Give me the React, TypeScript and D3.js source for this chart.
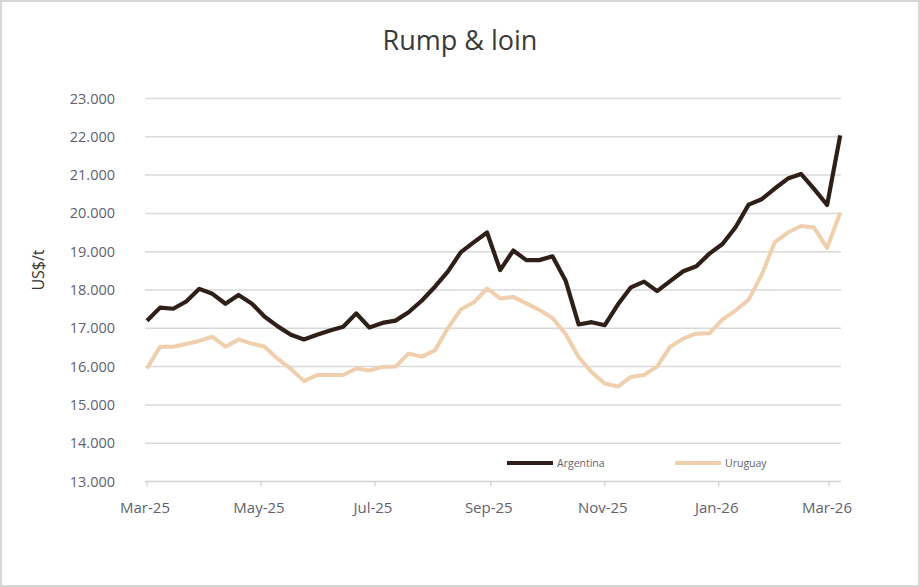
import React from "react";
import * as d3 from "d3";

const START_DATE = new Date(2025, 2, 1);
const argentina = [
  17200, 17540, 17510, 17700, 18030, 17900, 17640, 17870, 17650, 17300,
  17050, 16830, 16710, 16830, 16940, 17040, 17390, 17020, 17140, 17200,
  17420, 17720, 18080, 18480, 18990, 19250, 19500, 18520, 19030, 18780,
  18780, 18880, 18250, 17100, 17160, 17080, 17620, 18070, 18220, 17970,
  18230, 18490, 18620, 18950, 19200, 19640, 20230, 20370, 20650, 20910,
  21030, 20640, 20220, 22040,
];
const uruguay = [
  15950, 16520, 16520, 16590, 16670, 16780, 16520, 16710, 16600, 16520,
  16200, 15940, 15620, 15780, 15780, 15780, 15950, 15900, 15990, 16000,
  16340, 16260, 16420, 17000, 17500, 17680, 18040, 17780, 17820, 17650,
  17480, 17270, 16850, 16250, 15850, 15560, 15480, 15730, 15780, 16000,
  16520, 16730, 16860, 16870, 17230, 17460, 17750, 18400, 19250, 19500,
  19670, 19630, 19100, 20020,
];
const dates = argentina.map((_, i) => d3.timeDay.offset(START_DATE, i * 7));
const yTicks = [13000, 14000, 15000, 16000, 17000, 18000, 19000, 20000, 21000, 22000, 23000];
const xTickDates = [
  new Date(2025, 2, 1), new Date(2025, 4, 1), new Date(2025, 6, 1), new Date(2025, 8, 1),
  new Date(2025, 10, 1), new Date(2026, 0, 1), new Date(2026, 2, 1),
];
const xTickLabels = ["Mar-25", "May-25", "Jul-25", "Sep-25", "Nov-25", "Jan-26", "Mar-26"];
const seriesNames = ["Argentina", "Uruguay"];
const colors = ["#2e1f19", "#efcfad"];

const W = 920, H = 587;
const FONT = "'Open Sans', 'DejaVu Sans', sans-serif";

export default function App() {
  const x = d3.scaleTime().domain([new Date(2025, 2, 1), new Date(2026, 2, 1)]).range([147, 829]);
  const y = d3.scaleLinear().domain([13000, 23000]).range([481.5, 98.5]);
  const fmt = (v: number) => d3.format(",")(v).replace(/,/g, ".");
  const line = d3.line<number>().x((_, i) => x(dates[i])).y((d) => y(d));
  const gridX0 = 145, gridX1 = 841;

  return (
    <svg width={W} height={H} style={{ position: "absolute", left: 0, top: 0, background: "#fff" }}>
      <rect x={1} y={1} width={W - 2} height={H - 2} fill="#fff" stroke="#d6d6d6" strokeWidth={2} />
      <text x={460} y={50} textAnchor="middle" fontFamily={FONT} fontSize={27} fill="#3a3a3a">Rump &amp; loin</text>
      {yTicks.map((t) => (
        <g key={t}>
          {t !== 13000 && (
            <line x1={gridX0} x2={gridX1} y1={y(t)} y2={y(t)} stroke="#d9d9d9" strokeWidth={1.5} />
          )}
          <text x={115} y={y(t)} dy="0.35em" textAnchor="end" fontFamily={FONT} fontSize={14.5} fill="#5f5f70">{fmt(t)}</text>
        </g>
      ))}
      <line x1={gridX0} x2={gridX1} y1={y(13000)} y2={y(13000)} stroke="#d0d0d0" strokeWidth={1.5} />
      {xTickDates.map((d, i) => (
        <g key={i}>
          <line x1={x(d)} x2={x(d)} y1={y(13000)} y2={y(13000) + 5} stroke="#d0d0d0" strokeWidth={1.2} />
          <text x={x(d) - 2} y={513} textAnchor="middle" fontFamily={FONT} fontSize={15} fill="#5f5f70">{xTickLabels[i]}</text>
        </g>
      ))}
      <text transform="translate(44,270) rotate(-90)" textAnchor="middle" fontFamily={FONT} fontSize={16} fill="#333">US$/t</text>
      <path d={line(uruguay) || ""} fill="none" stroke={colors[1]} strokeWidth={4} strokeLinejoin="round" />
      <path d={line(argentina) || ""} fill="none" stroke={colors[0]} strokeWidth={4.2} strokeLinejoin="round" />
      {seriesNames.map((n, i) => {
        const lx = i === 0 ? 507 : 675;
        return (
          <g key={n}>
            <line x1={lx} x2={lx + 46} y1={463} y2={463} stroke={colors[i]} strokeWidth={3.8} />
            <text x={lx + 50} y={463} dy="0.35em" fontFamily={FONT} fontSize={10.5} fill="#5f5f70">{n}</text>
          </g>
        );
      })}
    </svg>
  );
}
